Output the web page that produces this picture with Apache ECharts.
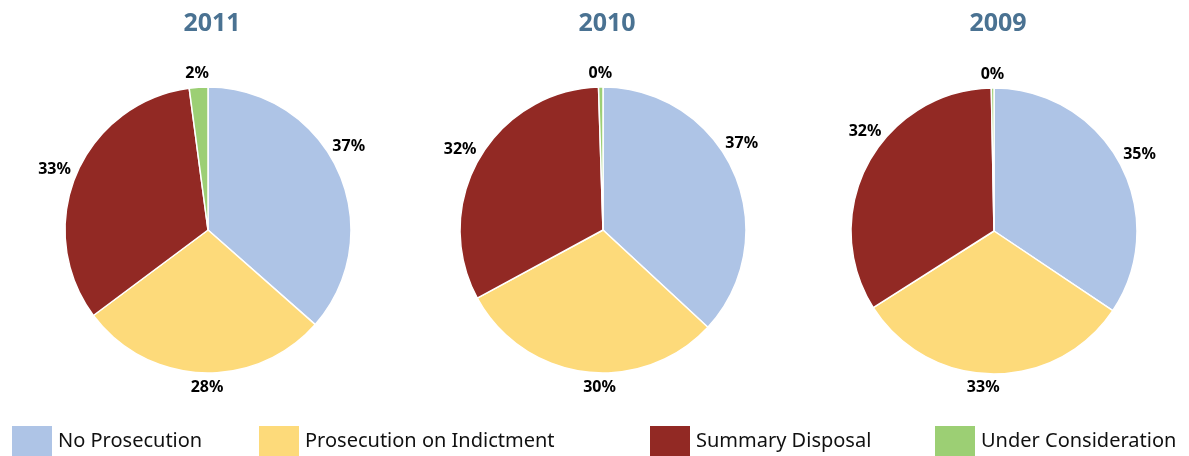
<!DOCTYPE html>
<html><head><meta charset="utf-8">
<script src="https://cdn.jsdelivr.net/npm/echarts@6/dist/echarts.min.js"></script>
<style>html,body{margin:0;padding:0;background:#fff}#c{width:1189px;height:456px}</style>
</head><body><div id="c"></div>
<script>
const categories = ['No Prosecution', 'Prosecution on Indictment', 'Summary Disposal', 'Under Consideration'];
const years = ['2011', '2010', '2009'];
const values2011 = [36.5, 28.3, 33.1, 2.1];
const values2010 = [36.9, 30.2, 32.4, 0.5];
const values2009 = [34.4, 31.6, 33.7, 0.3];
const labels2011 = ['37%', '28%', '33%', '2%'];
const labels2010 = ['37%', '30%', '32%', '0%'];
const labels2009 = ['35%', '33%', '32%', '0%'];
const colors = ['#aec4e6', '#fdda7a', '#922924', '#9ccf74'];

const allValues = [values2011, values2010, values2009];
const allLabels = [labels2011, labels2010, labels2009];
const centers = [[208, 230], [603, 230], [994, 231]];
const radius = 143;
const legendLefts = [10, 257, 648, 933];
// small manual label-angle nudges (degrees), as in the original layout
const labelShift = [[-8, -2, 0, 0], [-10, -6, 1, 0], [-1, 3, 11, 0]];
const labelGap = 7;
const labelW = 33, labelH = 14;

const chart = echarts.init(document.getElementById('c'), null, {renderer: 'canvas'});
const font = '"Noto Sans", "Open Sans", sans-serif';

function labelPos(si, di) {
  const vals = allValues[si];
  const total = vals.reduce((a, b) => a + b, 0);
  let cum = 0;
  for (let k = 0; k < di; k++) cum += vals[k];
  const midFrac = (cum + vals[di] / 2) / total;
  const ang = (midFrac * 360 + labelShift[si][di]) * Math.PI / 180;
  const dx = Math.sin(ang), dy = -Math.cos(ang);
  const c = centers[si];
  const ax = c[0] + dx * (radius + labelGap);
  const ay = c[1] + dy * (radius + labelGap);
  return {x: ax + dx * labelW / 2, y: ay + dy * labelH / 2};
}

const option = {
  color: colors,
  animation: false,
  title: years.map((y, i) => ({
    text: y,
    left: centers[i][0] - 1,
    top: 6,
    textAlign: 'center',
    textStyle: {fontSize: 25, fontWeight: 'bold', color: '#4a7292', fontFamily: font}
  })),
  legend: categories.map((c, i) => ({
    data: [c],
    left: legendLefts[i],
    top: 424,
    itemWidth: 42,
    itemHeight: 32,
    icon: 'rect',
    selectedMode: false,
    padding: 0,
    textStyle: {fontSize: 20, color: '#111', fontFamily: font, padding: [0, 0, 0, 0]}
  })),
  series: years.map((y, i) => ({
    type: 'pie',
    center: centers[i],
    radius: radius,
    startAngle: 90,
    clockwise: true,
    itemStyle: {borderColor: '#fff', borderWidth: 1.5},
    label: {
      show: true,
      position: 'outside',
      formatter: p => allLabels[i][p.dataIndex],
      fontSize: 16,
      fontWeight: 'bold',
      color: '#000',
      fontFamily: font
    },
    labelLine: {show: false, length: 10, length2: 0},
    labelLayout: p => {
      const pos = labelPos(p.seriesIndex, p.dataIndex);
      return {x: pos.x, y: pos.y, align: 'center', verticalAlign: 'middle'};
    },
    emphasis: {disabled: true},
    data: categories.map((c, k) => ({name: c, value: allValues[i][k]}))
  }))
};
chart.setOption(option);
</script>
</body></html>
